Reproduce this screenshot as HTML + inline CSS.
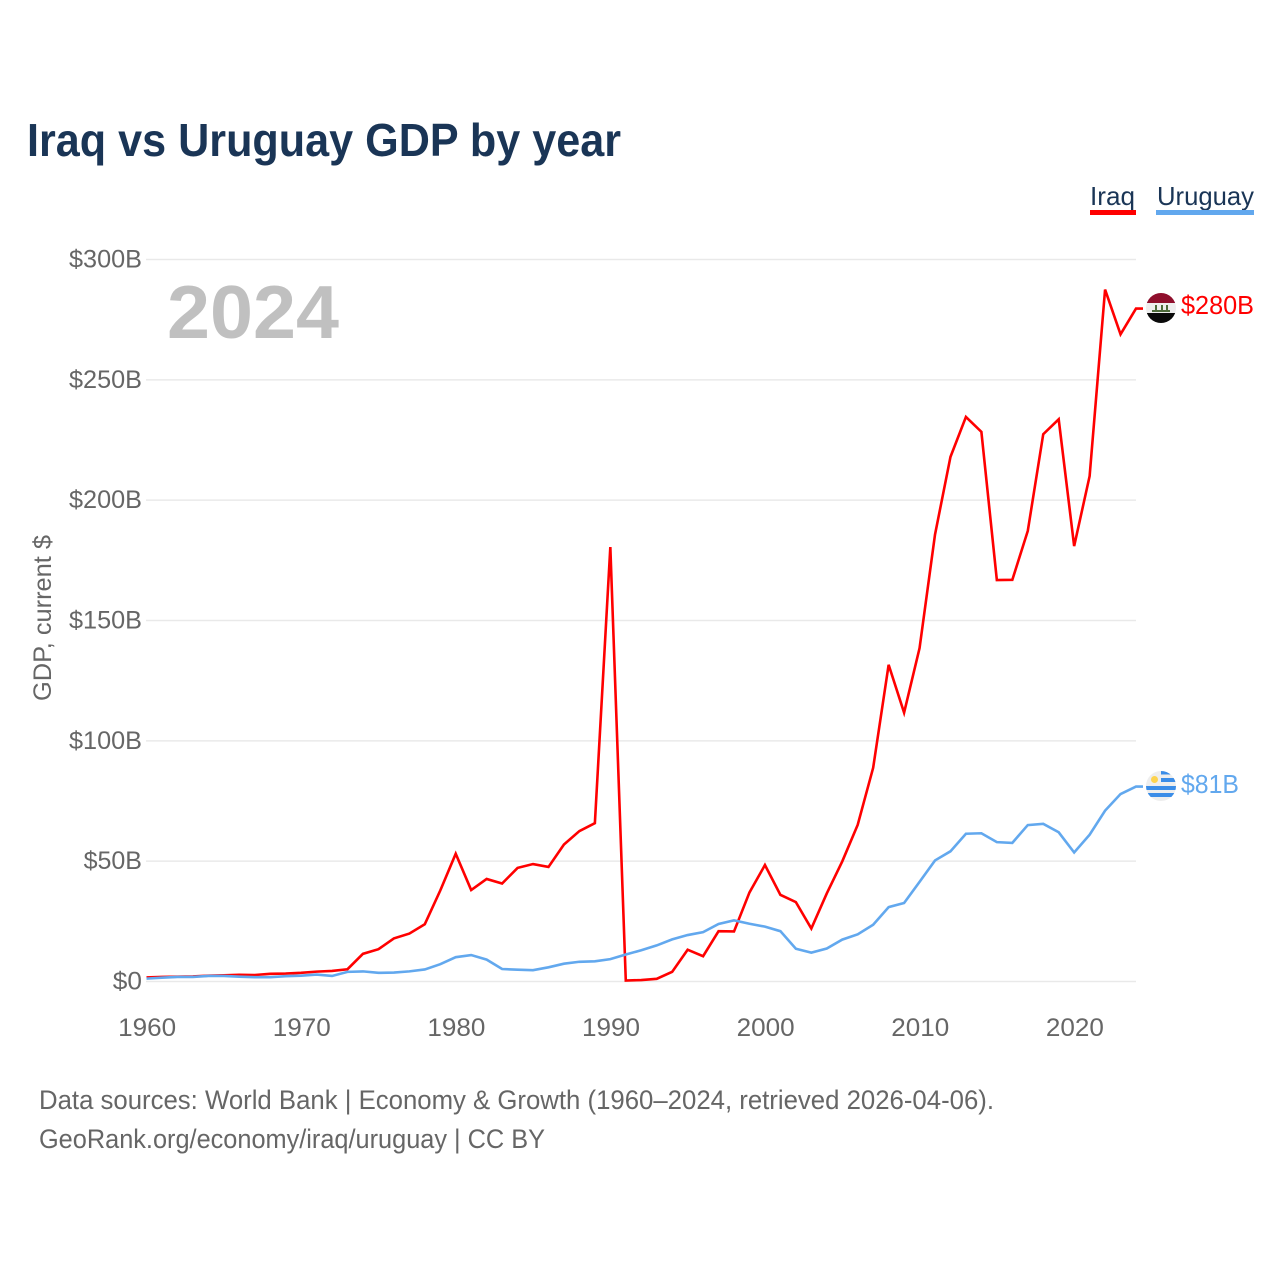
<!DOCTYPE html>
<html lang="en">
<head>
<meta charset="utf-8">
<title>Iraq vs Uruguay GDP by year</title>
<style>
html,body{margin:0;padding:0;background:#fff;width:1280px;height:1280px;overflow:hidden}
svg{display:block}
text{font-family:"Liberation Sans",sans-serif}
</style>
</head>
<body>
<svg id="chart" width="1280" height="1280" viewBox="0 0 1280 1280" xmlns="http://www.w3.org/2000/svg">
  <rect x="0" y="0" width="1280" height="1280" fill="#ffffff"/>
  <text x="27" y="156" font-size="46" font-weight="700" fill="#1a3556" textLength="594" lengthAdjust="spacingAndGlyphs">Iraq vs Uruguay GDP by year</text>
  <g id="grid"></g>
  <g id="ylabels"></g>
  <g id="xlabels"></g>
  <text x="167" y="338" font-size="75" font-weight="700" fill="#c0c0c0" textLength="172" lengthAdjust="spacingAndGlyphs">2024</text>
  <text transform="translate(51,701) rotate(-90)" font-size="25" fill="#666666" textLength="166" lengthAdjust="spacingAndGlyphs">GDP, current $</text>
  <g id="series"></g>

  <g>
    <text x="1090" y="205" font-size="26" fill="#1a3556" textLength="45" lengthAdjust="spacingAndGlyphs">Iraq</text>
    <rect x="1090" y="210" width="46" height="5" fill="#ff0000"/>
  </g>
  <g>
    <text x="1157" y="205" font-size="26" fill="#1a3556" textLength="97" lengthAdjust="spacingAndGlyphs">Uruguay</text>
    <rect x="1156" y="210" width="98" height="5" fill="#62a8ee"/>
  </g>

  <defs>
    <clipPath id="flagClipIraq"><circle cx="1161" cy="308" r="15"/></clipPath>
    <clipPath id="flagClipUruguay"><circle cx="1161" cy="786" r="15"/></clipPath>
  </defs>
  <g clip-path="url(#flagClipIraq)">
    <rect x="1146" y="293" width="30" height="10" fill="#8f0f2c"/>
    <rect x="1146" y="303" width="30" height="10" fill="#eeeeee"/>
    <rect x="1146" y="313" width="30" height="10" fill="#0a0a0a"/>
    <rect x="1152" y="310" width="18" height="2" fill="#4d6b3a"/>
    <rect x="1155" y="305" width="2" height="5" fill="#4d6b3a"/>
    <rect x="1161" y="305" width="2" height="5" fill="#4d6b3a"/>
    <rect x="1166" y="305" width="2" height="5" fill="#4d6b3a"/>
  </g>
  <g clip-path="url(#flagClipUruguay)">
    <rect x="1146" y="771" width="30" height="30" fill="#eeeeee"/>
    <rect x="1161" y="771" width="15" height="3.5" fill="#3b8de8"/>
    <rect x="1161" y="778" width="15" height="4" fill="#3b8de8"/>
    <rect x="1146" y="786" width="30" height="4" fill="#3b8de8"/>
    <rect x="1146" y="793" width="30" height="4" fill="#3b8de8"/>
    <circle cx="1154.5" cy="779.5" r="3.5" fill="#fdd34f"/>
  </g>
  <text x="1181" y="314" font-size="26" fill="#ff0000" textLength="73" lengthAdjust="spacingAndGlyphs">$280B</text>
  <text x="1181" y="793" font-size="26" fill="#62a8ee" textLength="58" lengthAdjust="spacingAndGlyphs">$81B</text>

  <text x="39" y="1109" font-size="27" fill="#666666" textLength="955" lengthAdjust="spacingAndGlyphs">Data sources: World Bank | Economy &amp; Growth (1960–2024, retrieved 2026-04-06).</text>
  <text x="39" y="1148" font-size="27" fill="#666666" textLength="506" lengthAdjust="spacingAndGlyphs">GeoRank.org/economy/iraq/uruguay | CC BY</text>
</svg>
<script>
const startYear = 1960;
const iraqValues = [1.7,1.9,2.0,2.1,2.4,2.6,2.8,2.7,3.2,3.3,3.6,4.1,4.4,5.1,11.5,13.4,17.9,19.9,23.8,37.8,53.1,38,42.6,40.7,47.2,48.8,47.6,56.9,62.5,65.8,180.5,0.4,0.6,1.1,4.0,13.2,10.5,20.9,20.8,37,48.4,36,33,22,36.6,49.9,65.1,88.8,131.6,111.7,138.5,185.7,218,234.6,228.4,166.8,166.9,187.2,227.4,233.6,180.9,210,287.5,268.9,279.6];
const uruguayValues = [1.2,1.6,1.9,1.9,2.3,2.3,2.0,1.8,1.8,2.2,2.4,2.9,2.3,4.0,4.2,3.6,3.7,4.2,5.0,7.2,10.1,11,9.1,5.2,4.9,4.7,5.9,7.4,8.2,8.4,9.3,11.2,13,15,17.5,19.3,20.5,23.9,25.4,24,22.8,20.9,13.6,12,13.7,17.4,19.6,23.6,30.9,32.6,41.4,50.3,54.1,61.4,61.6,57.9,57.6,65,65.5,62,53.6,61,71,77.9,81];
const yTicks = [0,50,100,150,200,250,300];
const yTickLabels = ["$0","$50B","$100B","$150B","$200B","$250B","$300B"];
const xTicks = [1960,1970,1980,1990,2000,2010,2020];

const NS = "http://www.w3.org/2000/svg";
const xScale = function(year){ return 146.5 + (year - 1960) * (1136 - 146.5) / 64; };
const yScale = function(v){ return 981.5 - v * (981.5 - 259.5) / 300; };

const gridGroup = document.getElementById("grid");
const yGroup = document.getElementById("ylabels");
yTicks.forEach(function(t, i){
  const line = document.createElementNS(NS, "line");
  
  
  line.setAttribute("x1", 146);
  line.setAttribute("x2", 1136);
  line.setAttribute("y1", yScale(t));
  line.setAttribute("y2", yScale(t));
  line.setAttribute("stroke", "#e9e9e9");
  line.setAttribute("stroke-width", "1.5");
  gridGroup.appendChild(line);
  const label = document.createElementNS(NS, "text");
  
  
  label.setAttribute("x", 142);
  label.setAttribute("y", yScale(t) + 8);
  label.setAttribute("text-anchor", "end");
  label.setAttribute("font-size", "25");
  label.setAttribute("fill", "#666666");
  label.setAttribute("textLength", (yTickLabels[i].length * 14.6).toFixed(1));
  label.setAttribute("lengthAdjust", "spacingAndGlyphs");
  label.textContent = yTickLabels[i];
  yGroup.appendChild(label);
});

const xGroup = document.getElementById("xlabels");
xTicks.forEach(function(t){
  const label = document.createElementNS(NS, "text");
  
  
  label.setAttribute("x", xScale(t) + 0.7);
  label.setAttribute("y", 1036);
  label.setAttribute("text-anchor", "middle");
  label.setAttribute("font-size", "25");
  label.setAttribute("fill", "#666666");
  label.setAttribute("textLength", "58");
  label.setAttribute("lengthAdjust", "spacingAndGlyphs");
  label.textContent = t;
  xGroup.appendChild(label);
});

function seriesPoints(values){
  return values.map(function(v, i){ return xScale(startYear + i).toFixed(2) + "," + yScale(v).toFixed(2); });
}
const seriesGroup = document.getElementById("series");

const iraqLine = document.createElementNS(NS, "polyline");


iraqLine.setAttribute("points", seriesPoints(iraqValues).join(" ") + " 1143," + yScale(iraqValues[iraqValues.length - 1]).toFixed(2));
iraqLine.setAttribute("fill", "none");
iraqLine.setAttribute("stroke", "#ff0000");
iraqLine.setAttribute("stroke-width", "2.6");
seriesGroup.appendChild(iraqLine);

const uruguayLine = document.createElementNS(NS, "polyline");


uruguayLine.setAttribute("points", seriesPoints(uruguayValues).join(" ") + " 1143," + yScale(uruguayValues[uruguayValues.length - 1]).toFixed(2));
uruguayLine.setAttribute("fill", "none");
uruguayLine.setAttribute("stroke", "#62a8ee");
uruguayLine.setAttribute("stroke-width", "2.6");
seriesGroup.appendChild(uruguayLine);
</script>
</body>
</html>
